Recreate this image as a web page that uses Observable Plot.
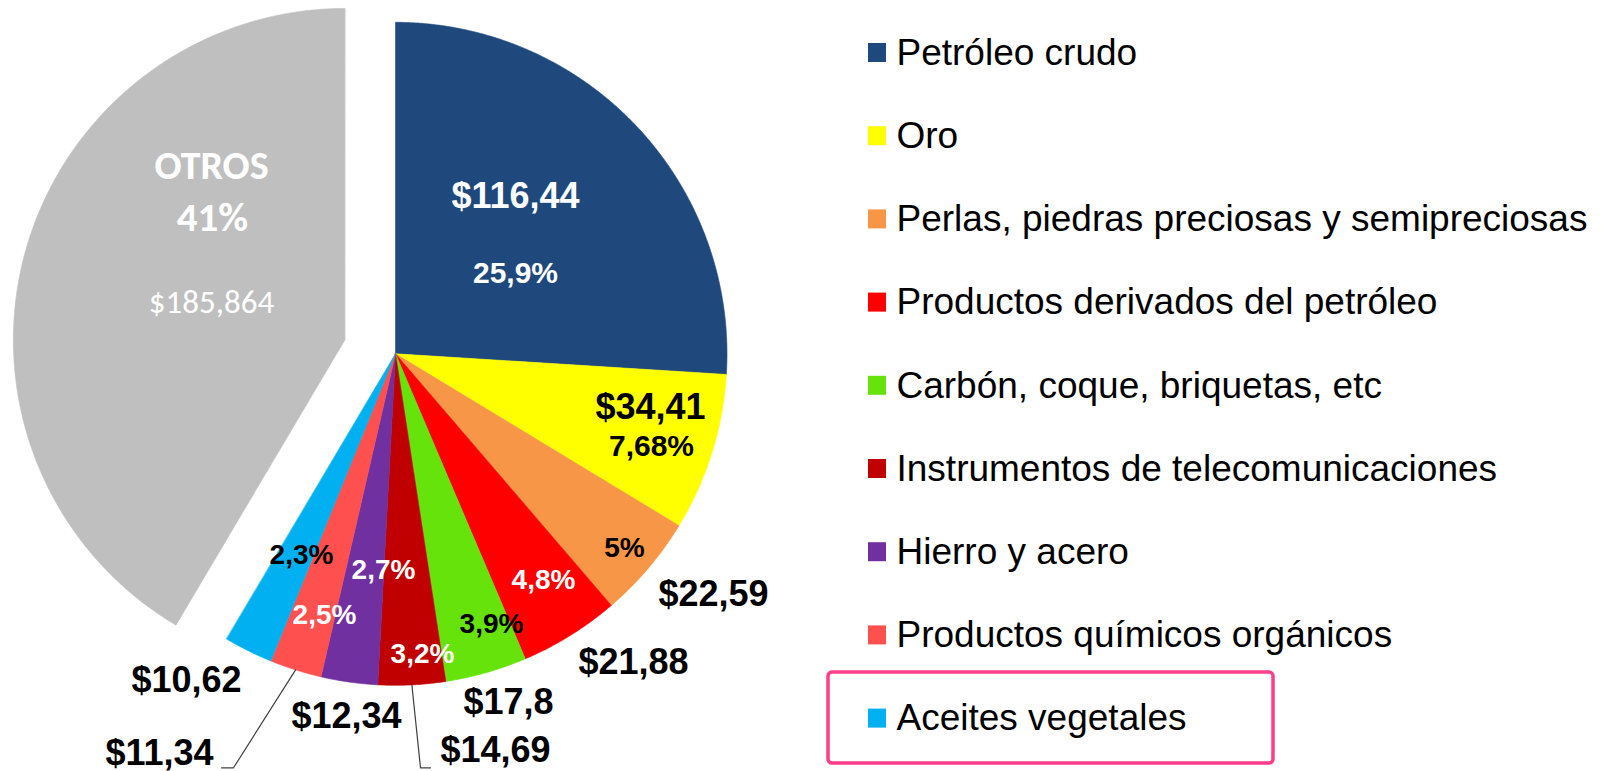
<!DOCTYPE html>
<html>
<head>
<meta charset="utf-8">
<script src="https://cdn.jsdelivr.net/npm/d3@7"></script>
<script src="https://cdn.jsdelivr.net/npm/@observablehq/plot@0.6"></script>
<style>
  html, body { margin: 0; padding: 0; background: #ffffff; }
  #chart svg { display: block; }
</style>
</head>
<body>
<div id="chart"></div>
<script>
// ---------- data ----------
const categories = [
  "Petróleo crudo",
  "Oro",
  "Perlas, piedras preciosas y semipreciosas",
  "Productos derivados del petróleo",
  "Carbón, coque, briquetas, etc",
  "Instrumentos de telecomunicaciones",
  "Hierro y acero",
  "Productos químicos orgánicos",
  "Aceites vegetales",
  "OTROS"
];
const values = [116.44, 34.41, 22.59, 21.88, 17.8, 14.69, 12.34, 11.34, 10.62, 185.864];
const percentLabels = ["25,9%", "7,68%", "5%", "4,8%", "3,9%", "3,2%", "2,7%", "2,5%", "2,3%", "41%"];
const otherName = "OTROS";

// ---------- styles ----------
const colors = ["#1F497D", "#FFFF00", "#F79646", "#FF0000", "#66E30B", "#C00000", "#7030A0", "#FF5050", "#00B0F0", "#BFBFBF"];

// ---------- layout ----------
const W = 1602, H = 771;
const cx = 395, cy = 353.3, R = 331.5, explode = 52.5;
const fontArial = "'Liberation Sans', Arial, Helvetica, sans-serif";
const fontCalibri = "Carlito, Lato, 'Open Sans', sans-serif";
// label placement as offsets from the pie centre: [dx, dy, size, colour]
const valueLabelLayout = [
  [120, -157, 36, "white"],
  [255, 54, 36, "black"],
  [318, 241, 36, "black"],
  [238, 309, 36, "black"],
  [113, 349, 36, "black"],
  [100, 397, 36, "black"],
  [-49, 363, 36, "black"],
  [-236, 400, 36, "black"],
  [-209, 327, 36, "black"]
];
const pctLabelLayout = [
  [120, -80, 30, "white"],
  [256, 93, 30, "black"],
  [229, 194, 28, "black"],
  [148, 226, 28, "white"],
  [96, 270, 28, "black"],
  [27, 300, 28, "white"],
  [-12, 216, 28, "white"],
  [-71, 261, 28, "white"],
  [-94, 201, 28, "black"]
];
// leader lines: [slice index, elbow dx, elbow dy, end dx]
const leaderLayout = [
  [7, -162, 414, -174],
  [5, 25, 414, 35]
];
const legendX = 868, legendTop = 52.5, legendStep = 83.2, swatch = 18, legendFont = 37;

// ---------- build ----------
const rows = categories.map((c, i) => ({cat: c, value: values[i], pct: percentLabels[i], i}));
const arcs = d3.pie().sort(null).value(d => d.value)(rows);

const slicePts = [];
const centers = [];
arcs.forEach(a => {
  const mid = (a.startAngle + a.endAngle) / 2;
  const off = a.data.cat === otherName ? explode : 0;
  const ox = cx + off * Math.sin(mid), oy = cy - off * Math.cos(mid);
  centers.push({ox, oy, mid});
  slicePts.push({cat: a.data.cat, x: ox, y: oy});
  const n = Math.max(2, Math.ceil((a.endAngle - a.startAngle) / 0.005));
  for (let k = 0; k <= n; k++) {
    const t = a.startAngle + (a.endAngle - a.startAngle) * k / n;
    slicePts.push({cat: a.data.cat, x: ox + R * Math.sin(t), y: oy - R * Math.cos(t)});
  }
});

const fmt = v => "$" + String(v).replace(".", ",");

const labelMarks = [];
valueLabelLayout.forEach((L, i) => {
  labelMarks.push(Plot.text([{x: cx + L[0], y: cy + L[1], t: fmt(values[i])}], {
    x: "x", y: "y", text: "t", fill: L[3], fontSize: L[2], fontWeight: "bold", fontFamily: fontArial
  }));
});
pctLabelLayout.forEach((L, i) => {
  labelMarks.push(Plot.text([{x: cx + L[0], y: cy + L[1], t: percentLabels[i]}], {
    x: "x", y: "y", text: "t", fill: L[3], fontSize: L[2], fontWeight: "bold", fontFamily: fontArial
  }));
});
// OTROS labels inside the exploded slice
const oi = categories.indexOf(otherName);
const otherLabels = [
  {dx: -184, dy: -188, t: otherName, size: 40, weight: "bold"},
  {dx: -183, dy: -136, t: percentLabels[oi], size: 41, weight: "bold"},
  {dx: -184, dy: -51, t: fmt(values[oi]), size: 33, weight: "normal"}
];
otherLabels.forEach(o => {
  labelMarks.push(Plot.text([{x: cx + o.dx, y: cy + o.dy, t: o.t}], {
    x: "x", y: "y", text: "t", fill: "white", fontSize: o.size, fontWeight: o.weight, fontFamily: fontCalibri
  }));
});

// leader lines
const leaderPts = [];
leaderLayout.forEach(([si, ex, ey, endx], j) => {
  const m = centers[si].mid;
  leaderPts.push({id: j, x: cx + R * Math.sin(m), y: cy - R * Math.cos(m)});
  leaderPts.push({id: j, x: cx + ex, y: cy + ey});
  leaderPts.push({id: j, x: cx + endx, y: cy + ey});
});

// legend
const legendRows = categories.filter(c => c !== otherName).map((c, i) => ({cat: c, y: legendTop + i * legendStep}));
const last = legendRows[legendRows.length - 1];
const box = [{x1: legendX - 40, x2: legendX + 405, y1: last.y - 46, y2: last.y + 45}];

const chart = Plot.plot({
  width: W, height: H,
  margin: 0,
  x: {domain: [0, W], range: [0, W], axis: null},
  y: {domain: [0, H], range: [0, H], axis: null},
  color: {domain: categories, range: colors},
  style: {background: "white", fontFamily: fontArial, overflow: "visible"},
  marks: [
    Plot.line(slicePts, {x: "x", y: "y", z: "cat", fill: "cat", stroke: "cat", strokeWidth: 0.6, curve: "linear-closed"}),
    Plot.line(leaderPts, {x: "x", y: "y", z: "id", stroke: "#404040", strokeWidth: 1.2}),
    ...labelMarks,
    Plot.rect(legendRows, {x1: legendX, x2: legendX + swatch, y1: d => d.y - 9.5, y2: d => d.y + 9.5, fill: "cat"}),
    Plot.text(legendRows, {x: legendX + swatch + 10, y: "y", text: "cat", textAnchor: "start", fontSize: legendFont, fill: "black", fontFamily: fontArial}),
    Plot.rect(box, {x1: "x1", x2: "x2", y1: "y1", y2: "y2", fill: "none", stroke: "#FF3D8B", strokeWidth: 3.5, rx: 4})
  ]
});
document.getElementById("chart").appendChild(chart);
</script>
</body>
</html>
